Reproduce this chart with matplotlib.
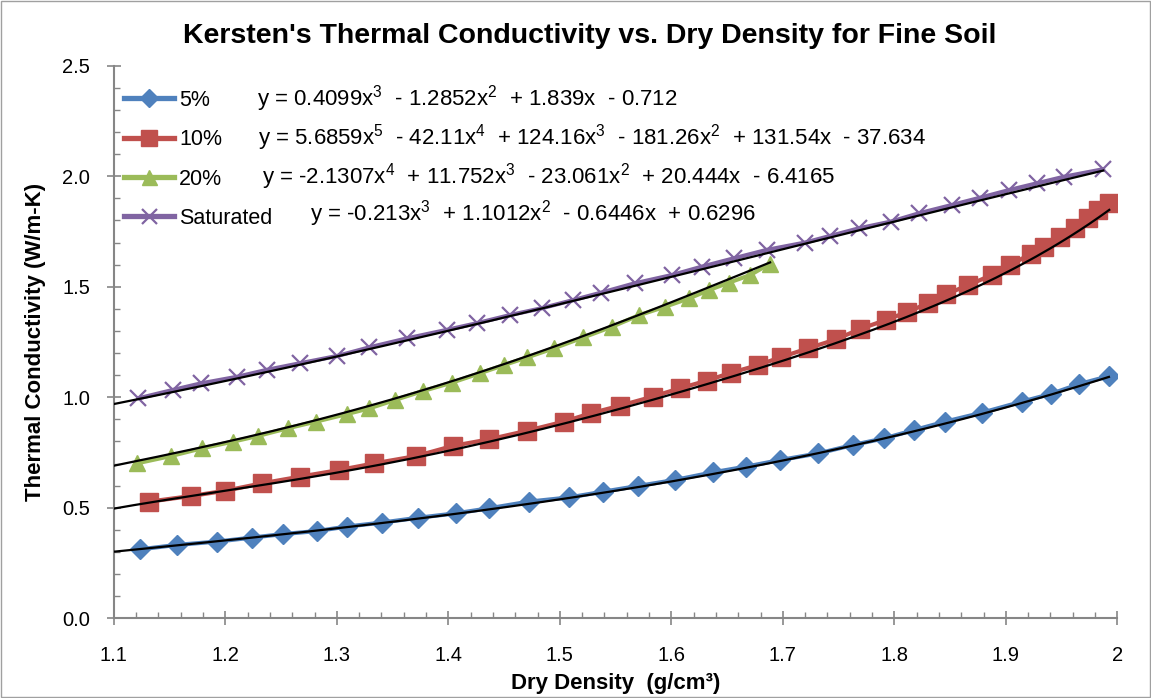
import matplotlib
matplotlib.use("Agg")
import matplotlib.pyplot as plt
import numpy as np
from matplotlib.lines import Line2D
from matplotlib.ticker import MultipleLocator, FuncFormatter

plt.rcParams['font.family'] = ['Liberation Sans', 'DejaVu Sans']
plt.rcParams['mathtext.fontset'] = 'custom'
plt.rcParams['mathtext.rm'] = 'Liberation Sans'
plt.rcParams['mathtext.it'] = 'Liberation Sans'

# ---------------- data ----------------
series_names = ["5%", "10%", "20%", "Saturated"]

x5 = [1.1235, 1.1564, 1.1923, 1.2237, 1.2515, 1.2825, 1.3089, 1.3403, 1.3731, 1.4069,
      1.4368, 1.4724, 1.5085, 1.5390, 1.5704, 1.6033, 1.6377, 1.6667, 1.6975, 1.7318,
      1.7627, 1.7908, 1.8180, 1.8457, 1.8784, 1.9142, 1.9403, 1.9659, 1.9925]
y5 = [0.312, 0.332, 0.347, 0.365, 0.381, 0.395, 0.415, 0.433, 0.455, 0.475,
      0.498, 0.528, 0.547, 0.573, 0.599, 0.626, 0.661, 0.686, 0.716, 0.746,
      0.784, 0.814, 0.852, 0.890, 0.930, 0.980, 1.015, 1.060, 1.096]

x10 = [1.1318, 1.1690, 1.1997, 1.2332, 1.2670, 1.3022, 1.3336, 1.3710, 1.4040, 1.4368,
       1.4709, 1.5038, 1.5280, 1.5540, 1.5833, 1.6078, 1.6317, 1.6535, 1.6780, 1.6981,
       1.7229, 1.7477, 1.7692, 1.7925, 1.8111, 1.8300, 1.8464, 1.8664, 1.8874, 1.9038,
       1.9223, 1.9343, 1.9486, 1.9621, 1.9740, 1.9830, 1.9928]
y10 = [0.528, 0.553, 0.577, 0.611, 0.641, 0.671, 0.701, 0.734, 0.780, 0.810,
       0.849, 0.890, 0.928, 0.962, 1.003, 1.041, 1.075, 1.111, 1.146, 1.181,
       1.222, 1.262, 1.309, 1.350, 1.385, 1.425, 1.466, 1.508, 1.553, 1.599,
       1.648, 1.681, 1.724, 1.765, 1.810, 1.848, 1.878]

x20 = [1.1205, 1.1510, 1.1788, 1.2066, 1.2291, 1.2560, 1.2813, 1.3089, 1.3292, 1.3522,
       1.3776, 1.4030, 1.4284, 1.4500, 1.4709, 1.4948, 1.5211, 1.5466, 1.5713, 1.5944,
       1.6161, 1.6341, 1.6517, 1.6706, 1.6886]
y20 = [0.701, 0.734, 0.769, 0.799, 0.825, 0.860, 0.890, 0.924, 0.950, 0.988,
       1.029, 1.066, 1.109, 1.146, 1.181, 1.222, 1.271, 1.319, 1.372, 1.410,
       1.448, 1.486, 1.519, 1.553, 1.605]

xsat = [1.1218, 1.1528, 1.1782, 1.2108, 1.2371, 1.2670, 1.3004, 1.3292, 1.3632, 1.3986,
        1.4255, 1.4553, 1.4838, 1.5121, 1.5367, 1.5674, 1.6004, 1.6273, 1.6562, 1.6856,
        1.7199, 1.7423, 1.7686, 1.7970, 1.8224, 1.8515, 1.8769, 1.9031, 1.9277, 1.9522,
        1.9874]
ysat = [0.995, 1.033, 1.063, 1.093, 1.124, 1.154, 1.187, 1.226, 1.267, 1.305,
        1.335, 1.372, 1.403, 1.440, 1.473, 1.516, 1.553, 1.591, 1.629, 1.667,
        1.700, 1.730, 1.765, 1.795, 1.833, 1.870, 1.903, 1.938, 1.968, 1.998,
        2.032]

# polynomial trendline coefficients as displayed (highest power first)
coef5 = [0.4099, -1.2852, 1.839, -0.712]
coef10 = [5.6859, -42.11, 124.16, -181.26, 131.54, -37.634]
coef20 = [-2.1307, 11.752, -23.061, 20.444, -6.4165]
coefsat = [-0.213, 1.1012, -0.6446, 0.6296]

equations = [
    "y = 0.4099x$^{3}$  - 1.2852x$^{2}$  + 1.839x  - 0.712",
    "y = 5.6859x$^{5}$  - 42.11x$^{4}$  + 124.16x$^{3}$  - 181.26x$^{2}$  + 131.54x  - 37.634",
    "y = -2.1307x$^{4}$  + 11.752x$^{3}$  - 23.061x$^{2}$  + 20.444x  - 6.4165",
    "y = -0.213x$^{3}$  + 1.1012x$^{2}$  - 0.6446x  + 0.6296",
]

colors = ["#4F81BD", "#C0504D", "#9BBB59", "#8064A2"]
markers = ["D", "s", "^", "x"]
msizes = [10, 12.5, 12, 12]

W, H = 1151, 698
fig = plt.figure(figsize=(W / 100, H / 100), dpi=100)
ax = fig.add_axes([113.8 / W, 1 - 618.3 / H, (1117.3 - 113.8) / W, (618.3 - 65.8) / H])

xs_all = [x5, x10, x20, xsat]
ys_all = [y5, y10, y20, ysat]
coefs = [coef5, coef10, coef20, coefsat]

handles = []
for xv, yv, c, m, ms, name in zip(xs_all, ys_all, colors, markers, msizes, series_names):
    mew = 1.6 if m == "x" else 1.0
    ax.plot(xv, yv, color=c, lw=3.0, marker=m, ms=ms, mec=c, mfc=c, mew=mew,
            zorder=2, solid_capstyle='round')
    handles.append(Line2D([], [], color=c, lw=3.8, marker=m, ms=ms * 0.9, mec=c, mfc=c, mew=mew))

for xv, cf in zip(xs_all, coefs):
    xt = np.linspace(1.1, xv[-1], 300)
    ax.plot(xt, np.polyval(cf, xt), color="black", lw=1.6, zorder=3)

ax.set_xlim(1.1, 2.0)
ax.set_ylim(0, 2.5)
ax.xaxis.set_major_locator(MultipleLocator(0.1))
ax.xaxis.set_minor_locator(MultipleLocator(0.02))
ax.yaxis.set_major_locator(MultipleLocator(0.5))
ax.yaxis.set_minor_locator(MultipleLocator(0.1))
ax.xaxis.set_major_formatter(FuncFormatter(lambda v, p: "2" if abs(v - 2) < 1e-6 else f"{v:.1f}"))
ax.yaxis.set_major_formatter(FuncFormatter(lambda v, p: f"{v:.1f}"))

for s in ["top", "right"]:
    ax.spines[s].set_visible(False)
for s in ["left", "bottom"]:
    ax.spines[s].set_color("#868686")
    ax.spines[s].set_linewidth(1.5)
ax.tick_params(axis="both", which="major", direction="inout", length=10, width=1.2,
               color="#868686", labelsize=14.5)
ax.tick_params(axis="both", which="minor", direction="in", length=4, width=1.0, color="#868686")
ax.tick_params(axis="y", which="major", pad=12)
ax.tick_params(axis="x", which="major", pad=15)

ax.set_xlabel("Dry Density  (g/cm³)", fontsize=16, fontweight="bold", labelpad=6)
ax.set_ylabel("Thermal Conductivity (W/m-K)", fontsize=16, fontweight="bold", labelpad=12)
fig.text(590 / W, 1 - 36 / H, "Kersten's Thermal Conductivity vs. Dry Density for Fine Soil",
         ha="center", va="center", fontsize=20.5, fontweight="bold")

leg = ax.legend(handles, series_names, loc="upper left",
                bbox_to_anchor=(124 / W, 1 - 90 / H), bbox_transform=fig.transFigure,
                frameon=False, fontsize=15.5, handlelength=2.3, handletextpad=0.25,
                labelspacing=0.85, borderpad=0, borderaxespad=0)

eq_pos = [(257, 99), (258, 138), (262, 177), (310, 214)]
for (px, py), eq in zip(eq_pos, equations):
    fig.text(px / W, 1 - py / H, eq, ha="left", va="center", fontsize=16)

# outer chart border
fig.patches.append(plt.Rectangle((0.001, 0.001), 0.998, 0.998, transform=fig.transFigure,
                                 fill=False, edgecolor="#A0A0A0", lw=1.0))

fig.savefig("out.png", dpi=100)
